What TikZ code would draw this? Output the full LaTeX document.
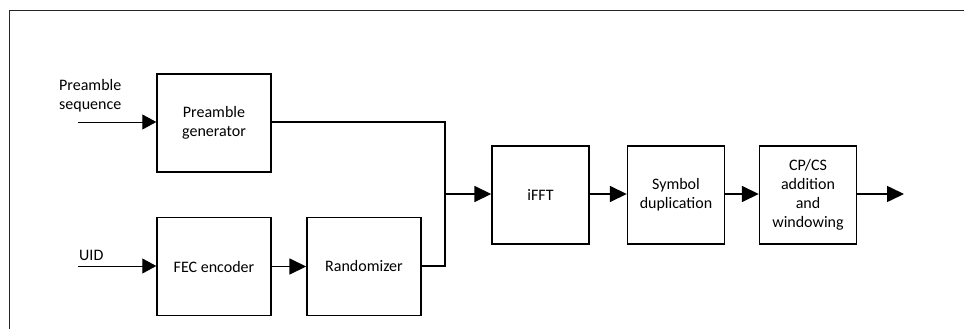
\documentclass[tikz,border=0pt]{standalone}
\usepackage{fontspec}
\setmainfont{Carlito}
\usetikzlibrary{arrows.meta}
\begin{document}
\begin{tikzpicture}[x=1pt,y=-1pt,
  blk/.style={draw,line width=1.4pt,minimum width=114pt,minimum height=98pt,inner sep=0pt,align=center,font=\fontsize{16}{19}\selectfont},
  sblk/.style={blk,minimum width=97pt},
  thk/.style={line width=1.6pt,-{Triangle[length=17pt,width=16pt]}},
  thn/.style={line width=0.9pt,-{Triangle[length=14pt,width=15pt]}},
  lbl/.style={font=\fontsize{16}{19}\selectfont,align=left,inner sep=0pt,anchor=west}]
\useasboundingbox (0,0) rectangle (964,329);
\draw[line width=1pt,black!85] (9,329) -- (9,11) -- (964,11);
\node[blk] (pg) at (214,123) {Preamble\\generator};
\node[blk] (fec) at (214,266.5) {FEC encoder};
\node[blk] (rnd) at (364,266.5) {Randomizer};
\node[sblk] (ifft) at (540.5,195) {iFFT};
\node[sblk] (sd) at (676,195) {Symbol\\duplication};
\node[sblk] (cp) at (808,195) {CP/CS\\addition\\and\\windowing};
\coordinate (pin) at (78,122);
\coordinate (uin) at (78,266);
\coordinate (j) at (445,194);
\coordinate (out) at (904,194);
\node[lbl] (ps) at (59,96) {Preamble\\sequence};
\node[lbl] (uid) at (79,255) {UID};
\draw[thn] (pin) -- (pin -| pg.west);
\draw[thn] (uin) -- (uin -| fec.west);
\draw[thk] (fec.east) -- (rnd.west);
\draw[line width=1.6pt] (pg.east |- pin) -| (j);
\draw[line width=1.6pt] (rnd.east |- uin) -| (j);
\draw[thk] (j) -- (j -| ifft.west);
\draw[thk] (ifft.east |- j) -- (sd.west |- j);
\draw[thk] (sd.east |- j) -- (cp.west |- j);
\draw[thk] (cp.east |- j) -- (out);
\end{tikzpicture}
\end{document}
